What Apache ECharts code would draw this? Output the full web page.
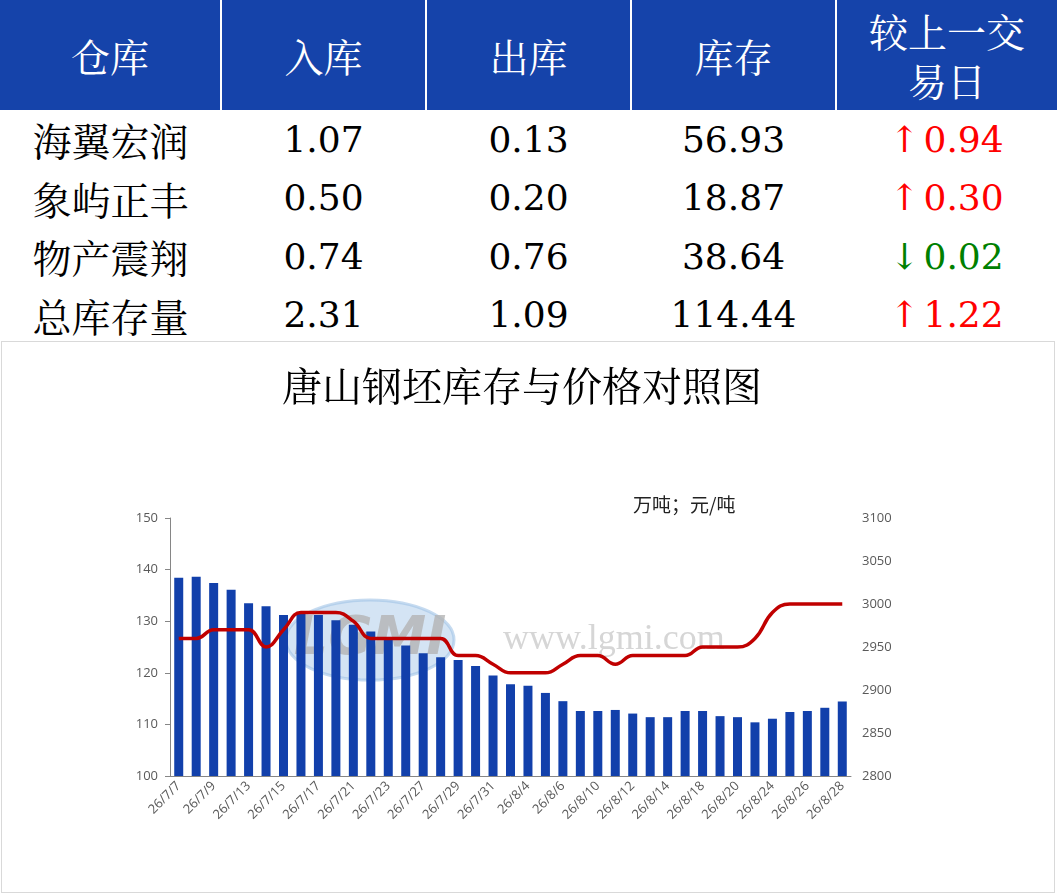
<!DOCTYPE html>
<html lang="zh">

<head>
    <meta charset="UTF-8">
    <title>唐山钢坯库存与价格对照图</title>
    <style>
        body {
            margin: 0;
            background: #fff;
        }

        #tbl {
            position: absolute;
            left: 0;
            top: 0;
            width: 1057px;
            table-layout: fixed;
            border-collapse: collapse;
        }

        #tbl th {
            height: 110px;
            padding: 0;
            background: #1543aa;
            color: #fff;
            font-family: "Noto Serif CJK SC", "Noto Sans CJK SC";
            font-weight: normal;
            font-size: 39px;
            line-height: 49px;
            border-left: 2px solid #fff;
        }

        #tbl th:first-child {
            border-left: none;
        }

        #tbl td {
            height: 58.5px;
            padding: 0;
            text-align: center;
            font-family: "DejaVu Serif", "Noto Serif CJK SC", "Noto Sans CJK SC";
            font-size: 36px;
            color: #000;
        }

        #tbl td.name {
            font-family: "Noto Serif CJK SC", "Noto Sans CJK SC";
            font-size: 39px;
        }

        .arrow {
            margin-right: 4px;
        }

        #frame {
            position: absolute;
            left: 1px;
            top: 341px;
            width: 1052px;
            height: 550px;
            border: 1px solid #d9d9d9;
        }

        #chart {
            position: absolute;
            left: 0;
            top: 341px;
            width: 1057px;
            height: 554px;
        }
    </style>
    <script src="https://cdn.jsdelivr.net/npm/echarts@6/dist/echarts.min.js"></script>
</head>

<body>
    <table id="tbl">
        <colgroup>
            <col style="width:221px">
            <col style="width:205px">
            <col style="width:205px">
            <col style="width:205px">
            <col style="width:221px">
        </colgroup>
        <thead>
            <tr>
                <th>仓库</th>
                <th>入库</th>
                <th>出库</th>
                <th>库存</th>
                <th>较上一交<br>易日</th>
            </tr>
        </thead>
        <tbody id="rows"></tbody>
    </table>
    <div id="frame"></div>
    <div id="chart"></div>
    <script>
        // 表格数据（万吨）
        var warehouses = ['海翼宏润', '象屿正丰', '物产震翔', '总库存量'];
        var inflow = ['1.07', '0.50', '0.74', '2.31'];
        var outflow = ['0.13', '0.20', '0.76', '1.09'];
        var inventory = ['56.93', '18.87', '38.64', '114.44'];
        var change = ['0.94', '0.30', '-0.02', '1.22'];

        // 图表数据
        var dates = ['26/7/7', '26/7/8', '26/7/9', '26/7/10', '26/7/13', '26/7/14', '26/7/15', '26/7/16', '26/7/17',
            '26/7/20', '26/7/21', '26/7/22', '26/7/23', '26/7/24', '26/7/27', '26/7/28', '26/7/29', '26/7/30', '26/7/31',
            '26/8/3', '26/8/4', '26/8/5', '26/8/6', '26/8/7', '26/8/10', '26/8/11', '26/8/12', '26/8/13', '26/8/14',
            '26/8/17', '26/8/18', '26/8/19', '26/8/20', '26/8/21', '26/8/24', '26/8/25', '26/8/26', '26/8/27', '26/8/28'];
        var stock = [138.4, 138.6, 137.4, 136.1, 133.5, 132.9, 131.2, 131.5, 131.2, 130.2,
            129.3, 128.0, 126.5, 125.3, 123.8, 123.0, 122.5, 121.3, 119.5, 117.8,
            117.5, 116.1, 114.5, 112.6, 112.6, 112.8, 112.1, 111.4, 111.4, 112.6,
            112.6, 111.6, 111.4, 110.4, 111.1, 112.4, 112.6, 113.22, 114.44];
        var price = [2960, 2960, 2970, 2970, 2970, 2950, 2970, 2990, 2990, 2990,
            2980, 2960, 2960, 2960, 2960, 2960, 2940, 2940, 2930, 2920,
            2920, 2920, 2930, 2940, 2940, 2930, 2940, 2940, 2940, 2940,
            2950, 2950, 2950, 2960, 2990, 3000, 3000, 3000, 3000];
        var stockAxis = [100, 150, 10];   // min, max, interval
        var priceAxis = [2800, 3100, 50];

        var html = '';
        for (var i = 0; i < warehouses.length; i++) {
            var up = change[i].charAt(0) !== '-';
            var col = up ? '#ff0000' : '#008000';
            html += '<tr><td class="name">' + warehouses[i] + '</td><td>' + inflow[i] + '</td><td>' + outflow[i] +
                '</td><td>' + inventory[i] + '</td><td style="color:' + col + '"><span class="arrow">' + (up ? '↑' : '↓') +
                '</span>' + change[i].replace('-', '') + '</td></tr>';
        }
        document.getElementById('rows').innerHTML = html;

        var axisLabelStyle = {
            color: '#595959',
            fontSize: 13,
            fontFamily: 'Open Sans'
        };

        echarts.init(document.getElementById('chart')).setOption({
            animation: false,
            title: {
                text: '唐山钢坯库存与价格对照图',
                left: 277,
                top: 20,
                textStyle: {
                    fontFamily: '"Noto Serif CJK SC", "Noto Sans CJK SC"',
                    fontWeight: 'normal',
                    fontSize: 40,
                    color: '#000'
                }
            },
            graphic: [
                {
                    type: 'ellipse',
                    shape: { cx: 370, cy: 299, rx: 84, ry: 40 },
                    style: { fill: 'rgba(160,195,230,0.45)', stroke: 'rgba(160,195,230,0.6)', lineWidth: 3 },
                    z: -1
                },
                {
                    type: 'text',
                    x: 370,
                    y: 299,
                    style: {
                        text: 'LGMI',
                        fontSize: 54,
                        fontWeight: 'bold',
                        fontStyle: 'italic',
                        fontFamily: 'DejaVu Sans',
                        fill: 'rgba(180,180,180,0.8)',
                        align: 'center',
                        verticalAlign: 'middle'
                    },
                    z: -1
                },
                {
                    type: 'text',
                    x: 503,
                    y: 299,
                    style: {
                        text: 'www.lgmi.com',
                        fontSize: 36,
                        fontFamily: 'Liberation Serif',
                        fill: '#d6d6d6',
                        verticalAlign: 'middle'
                    },
                    z: -1
                },
                {
                    type: 'text',
                    x: 633,
                    y: 164,
                    style: {
                        text: '万吨；元/吨',
                        fontSize: 19,
                        fontFamily: 'Noto Sans CJK SC',
                        fill: '#222',
                        verticalAlign: 'middle'
                    }
                }
            ],
            grid: {
                left: 170,
                right: 206,
                top: 177,
                bottom: 119
            },
            xAxis: {
                type: 'category',
                data: dates,
                axisLine: { lineStyle: { color: '#868686', width: 1 } },
                axisTick: { interval: 0, length: 5, lineStyle: { color: '#868686' } },
                axisLabel: Object.assign({ interval: 1, rotate: 45, margin: 8 }, axisLabelStyle)
            },
            yAxis: [
                {
                    type: 'value',
                    min: stockAxis[0],
                    max: stockAxis[1],
                    interval: stockAxis[2],
                    axisLine: { show: true, lineStyle: { color: '#868686' } },
                    axisTick: { show: true, length: 5, lineStyle: { color: '#868686' } },
                    splitLine: { show: false },
                    axisLabel: Object.assign({ margin: 12 }, axisLabelStyle)
                },
                {
                    type: 'value',
                    min: priceAxis[0],
                    max: priceAxis[1],
                    interval: priceAxis[2],
                    axisLine: { show: false },
                    axisTick: { show: false },
                    splitLine: { show: false },
                    axisLabel: Object.assign({
                        margin: 11,
                        formatter: function (v) { return String(v); }
                    }, axisLabelStyle)
                }
            ],
            series: [
                {
                    name: '库存',
                    type: 'bar',
                    barWidth: 9,
                    itemStyle: { color: '#1240ab' },
                    data: stock
                },
                {
                    name: '价格',
                    type: 'line',
                    yAxisIndex: 1,
                    smooth: 0.45,
                    symbol: 'none',
                    lineStyle: { color: '#c00000', width: 3.5 },
                    data: price
                }
            ]
        });
    </script>
</body>

</html>
